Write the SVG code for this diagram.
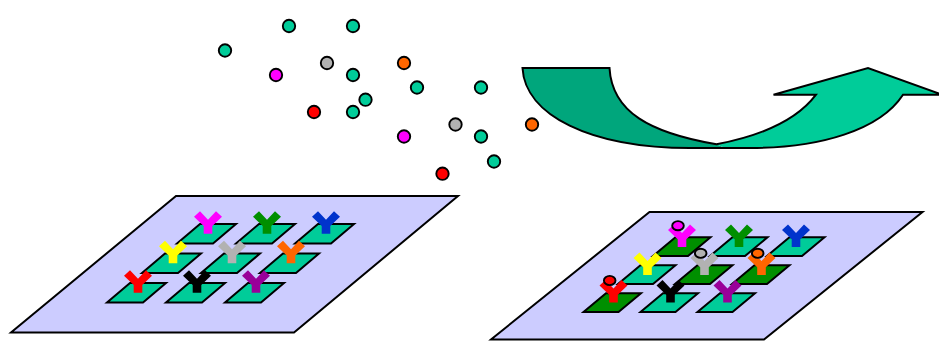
<svg xmlns="http://www.w3.org/2000/svg" width="939" height="345" viewBox="0 0 939 345">
<style>
.s{stroke:#000;stroke-width:2;stroke-linejoin:miter}
.plate{fill:#ccf}
.b{stroke:#000;stroke-width:1.9}
.teal{fill:#00cc99}.mag{fill:#f0f}.gry{fill:#b2b2b2}.org{fill:#ff6600}.red{fill:#f00}
</style>
<defs>
<polygon id="tileL" class="s" points="0,0 36,0 59,-19.5 23,-19.5"/>
<polygon id="tileR" class="s" points="0,0 35,0 57.5,-18.7 22.5,-18.7"/>
<polygon id="y" points="-4.300,0 4.300,0 4.300,-7.700 14,-17 8,-22.500 0,-14 -8,-22.500 -14,-17 -4.300,-7.700"/>
</defs>
<rect width="939" height="345" fill="#fff"/>
<g id="molecules" class="b">
<circle class="teal" cx="225" cy="50.500" r="6.200"/>
<circle class="teal" cx="289" cy="26" r="6.200"/>
<circle class="teal" cx="353" cy="26" r="6.200"/>
<circle class="gry" cx="327" cy="63" r="6.200"/>
<circle class="mag" cx="276" cy="75" r="6.200"/>
<circle class="teal" cx="353" cy="75" r="6.200"/>
<circle class="org" cx="404" cy="63" r="6.200"/>
<circle class="teal" cx="417" cy="87.500" r="6.200"/>
<circle class="teal" cx="481" cy="87.500" r="6.200"/>
<circle class="teal" cx="365.500" cy="99.700" r="6.200"/>
<circle class="red" cx="314" cy="112" r="6.200"/>
<circle class="teal" cx="353" cy="112" r="6.200"/>
<circle class="mag" cx="404" cy="136.500" r="6.200"/>
<circle class="gry" cx="455.500" cy="124.500" r="6.200"/>
<circle class="teal" cx="481" cy="136.500" r="6.200"/>
<circle class="org" cx="532" cy="124.500" r="6.200"/>
<circle class="teal" cx="494" cy="161.500" r="6.200"/>
<circle class="red" cx="442.500" cy="173.700" r="6.200"/>
</g>
<g id="arrow">
<path fill="#00a67c" d="M522.500,68 H609.500 C612,112 650,133 716.500,144.300 L725,148 H690 C590,148 525,115 522.500,68 Z"/>
<path fill="#00cc99" d="M716.500,144.300 C760,136 797,120 816,94.700 H773.500 L868,68 L939,93.500 V94.700 H903 C880,130 820,148 750,148 H725 Z"/>
<path class="s" fill="none" d="M522.500,68 H609.500 C612,112 650,133 716.500,144.300 C760,136 797,120 816,94.700 H773.500 L868,68 L939,93.500 V94.700 H903 C880,130 820,148 750,148 H690 C590,148 525,115 522.500,68 Z"/>
</g>
<g id="chip-left">
<polygon class="s plate" points="176,196 458,196 294,332.500 11,332.500"/>
<use href="#tileL" x="177" y="243.500" fill="#00cc99"/><use href="#y" x="208" y="233.700" fill="#f0f"/>
<use href="#tileL" x="236" y="243.500" fill="#00cc99"/><use href="#y" x="267" y="233.700" fill="#008f00"/>
<use href="#tileL" x="295" y="243.500" fill="#00cc99"/><use href="#y" x="326" y="233.700" fill="#0033cc"/>
<use href="#tileL" x="142" y="273" fill="#00cc99"/><use href="#y" x="173" y="263.200" fill="#ff0"/>
<use href="#tileL" x="201" y="273" fill="#00cc99"/><use href="#y" x="232" y="263.200" fill="#b2b2b2"/>
<use href="#tileL" x="260" y="273" fill="#00cc99"/><use href="#y" x="291" y="263.200" fill="#ff6600"/>
<use href="#tileL" x="107" y="302.500" fill="#00cc99"/><use href="#y" x="138" y="292.700" fill="#f00"/>
<use href="#tileL" x="166" y="302.500" fill="#00cc99"/><use href="#y" x="197" y="292.700" fill="#000"/>
<use href="#tileL" x="225" y="302.500" fill="#00cc99"/><use href="#y" x="256" y="292.700" fill="#909"/>
</g>
<g id="chip-right">
<polygon class="s plate" points="649.500,212 922.500,212 764,339.500 491,339.500"/>
<use href="#tileR" x="653" y="256" fill="#008f00"/><use href="#y" x="682" y="247" fill="#f0f"/>
<use href="#tileR" x="710" y="256" fill="#00cc99"/><use href="#y" x="739" y="247" fill="#008f00"/>
<use href="#tileR" x="767" y="256" fill="#00cc99"/><use href="#y" x="796" y="247" fill="#0033cc"/>
<use href="#tileR" x="618" y="284" fill="#00cc99"/><use href="#y" x="647.500" y="275" fill="#ff0"/>
<use href="#tileR" x="675" y="284" fill="#008f00"/><use href="#y" x="704.500" y="275" fill="#b2b2b2"/>
<use href="#tileR" x="732" y="284" fill="#008f00"/><use href="#y" x="761.500" y="275" fill="#ff6600"/>
<use href="#tileR" x="583.500" y="312" fill="#008f00"/><use href="#y" x="613.500" y="302.500" fill="#f00"/>
<use href="#tileR" x="640.500" y="312" fill="#00cc99"/><use href="#y" x="670.500" y="302.500" fill="#000"/>
<use href="#tileR" x="697.500" y="312" fill="#00cc99"/><use href="#y" x="727.500" y="302.500" fill="#909"/>
<g class="b">
<ellipse class="mag" cx="678" cy="225.700" rx="5.800" ry="4.600"/>
<ellipse class="gry" cx="700.700" cy="253.300" rx="5.800" ry="4.600"/>
<ellipse class="org" cx="757.700" cy="253.300" rx="5.800" ry="4.600"/>
<ellipse class="red" cx="609.700" cy="280.500" rx="5.800" ry="4.600"/>
</g>
</g>
</svg>
